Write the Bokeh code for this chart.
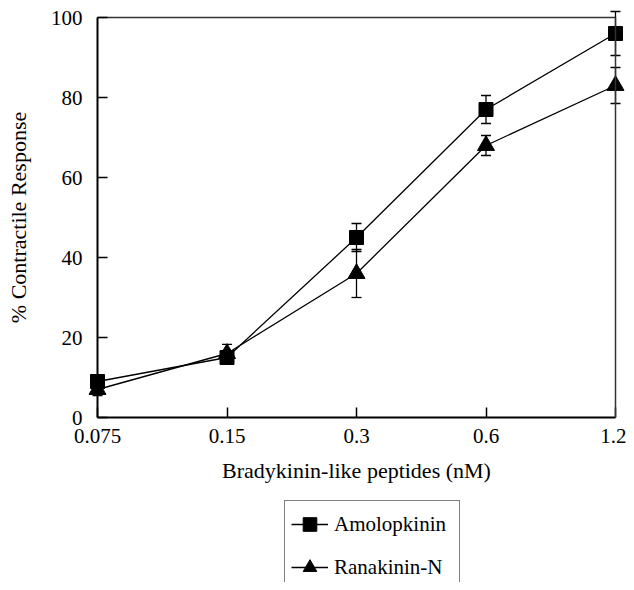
from bokeh.plotting import figure
from bokeh.models import (ColumnDataSource, Range1d, FixedTicker, Whisker, TeeHead,
                          Legend, LegendItem, LinearAxis)
from bokeh.embed import file_html
from bokeh.resources import INLINE

doses = ["0.075", "0.15", "0.3", "0.6", "1.2"]
amolopkinin = [9, 15, 45, 77, 96]
amolopkinin_err = [1.0, 1.5, 3.5, 3.5, 5.5]
ranakinin_n = [7, 16, 36, 68, 83]
ranakinin_n_err = [1.5, 2.3, 6.0, 2.5, 4.5]
y_ticks = [0, 20, 40, 60, 80, 100]

FONT = "Liberation Serif"
xs = list(range(len(doses)))
x_lo, x_hi = xs[0], xs[-1]
y_lo, y_hi = y_ticks[0], y_ticks[-1]

W, H = 626, 582
# pixel geometry of the plot box inside the figure
BOX_L, BOX_R, BOX_T, BOX_B = 97, 615, 17, 417
sx = (BOX_R - BOX_L) / (x_hi - x_lo)
sy = (BOX_B - BOX_T) / (y_hi - y_lo)

src_a = ColumnDataSource(dict(x=xs, y=amolopkinin,
                              lo=[v - e for v, e in zip(amolopkinin, amolopkinin_err)],
                              hi=[v + e for v, e in zip(amolopkinin, amolopkinin_err)]))
src_r = ColumnDataSource(dict(x=xs, y=ranakinin_n,
                              lo=[v - e for v, e in zip(ranakinin_n, ranakinin_n_err)],
                              hi=[v + e for v, e in zip(ranakinin_n, ranakinin_n_err)]))

p = figure(width=W, height=H, output_backend="svg", toolbar_location=None,
           x_range=Range1d(x_lo - BOX_L / sx, x_hi + (W - BOX_R) / sx),
           y_range=Range1d(y_lo - (H - BOX_B) / sy, y_hi + BOX_T / sy),
           min_border=0)
p.xgrid.visible = False
p.ygrid.visible = False
p.outline_line_color = None
p.background_fill_color = "white"
p.border_fill_color = "white"

for ax in (p.xaxis[0], p.yaxis[0]):
    ax.axis_line_color = "black"
    ax.axis_line_width = 2
    ax.major_tick_in = 10
    ax.major_tick_out = 0
    ax.major_tick_line_width = 1.5
    ax.major_tick_line_color = "black"
    ax.minor_tick_line_color = None
    ax.major_label_text_font = FONT
    ax.major_label_text_font_size = "21px"
    ax.major_label_text_color = "black"
    ax.axis_label_text_font = FONT
    ax.axis_label_text_font_size = "22px"
    ax.axis_label_text_font_style = "normal"
    ax.axis_label_text_color = "black"

xa = p.xaxis[0]
xa.fixed_location = y_lo
xa.bounds = (x_lo, x_hi)
xa.ticker = FixedTicker(ticks=xs)
xa.major_label_overrides = {i: d for i, d in enumerate(doses)}
xa.axis_label = "Bradykinin-like peptides (nM)"
xa.major_label_standoff = 11
xa.axis_label_standoff = 12

ya = p.yaxis[0]
ya.fixed_location = x_lo
ya.bounds = (y_lo, y_hi)
ya.ticker = FixedTicker(ticks=y_ticks)
ya.axis_label = "% Contractile Response"
ya.major_label_standoff = 15
ya.axis_label_standoff = 17

# top and right sides of the box
top_ax = LinearAxis(fixed_location=y_hi, bounds=(x_lo, x_hi), ticker=FixedTicker(ticks=[]),
                    axis_line_color="#333333", axis_line_width=1.5,
                    major_tick_line_color=None, minor_tick_line_color=None)
right_ax = LinearAxis(fixed_location=x_hi, bounds=(y_lo, y_hi), ticker=FixedTicker(ticks=[]),
                      axis_line_color="#333333", axis_line_width=1.5,
                      major_tick_line_color=None, minor_tick_line_color=None)
p.add_layout(top_ax, "above")
p.add_layout(right_ax, "right")

la = p.line("x", "y", source=src_a, line_color="black", line_width=1.3)
sa = p.scatter("x", "y", source=src_a, marker="square", size=14,
               fill_color="black", line_color="black")
lr = p.line("x", "y", source=src_r, line_color="black", line_width=1.3)
sr = p.scatter("x", "y", source=src_r, marker="triangle", size=17,
               fill_color="black", line_color="black")

for src in (src_a, src_r):
    p.add_layout(Whisker(source=src, base="x", upper="hi", lower="lo",
                         line_color="black", line_width=1.3,
                         upper_head=TeeHead(size=10, line_color="black", line_width=1.3),
                         lower_head=TeeHead(size=10, line_color="black", line_width=1.3)))

legend = Legend(items=[LegendItem(label="Amolopkinin", renderers=[la, sa]),
                       LegendItem(label="Ranakinin-N", renderers=[lr, sr])],
                location=(284, -9), orientation="vertical",
                border_line_color="black", border_line_width=1,
                background_fill_alpha=1, background_fill_color="white",
                label_text_font=FONT, label_text_font_size="21px",
                label_text_color="black",
                glyph_width=37, glyph_height=34, label_height=34, label_width=119,
                label_standoff=6, spacing=9, padding=6, margin=0)
p.add_layout(legend, "center")

open("out.html", "w").write(file_html(p, INLINE))
